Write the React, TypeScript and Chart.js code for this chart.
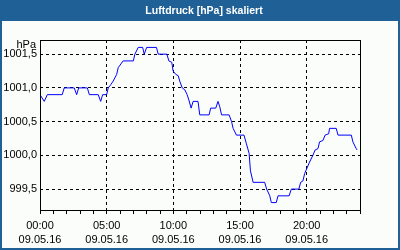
import React, { useEffect, useRef } from 'react';
import { Chart, registerables } from 'chart.js';

Chart.register(...registerables);

const TITLE = 'Luftdruck [hPa] skaliert';
const UNIT = 'hPa';
const DATE_LABEL = '09.05.16';

// time in minutes after 00:00 on 09.05.16
const minutes = [
  0, 19, 33, 100, 109, 154, 165, 174, 213, 222, 262, 273, 282, 300, 307, 319, 329, 345, 352, 374,
  420, 427, 442, 462, 469, 480, 524, 532, 571, 580, 593, 599, 611, 622, 629, 640, 652, 662, 670, 680,
  689, 711, 719, 761, 768, 791, 801, 809, 817, 851, 862, 869, 884, 918, 929, 941, 947, 959, 1011, 1020,
  1034, 1041, 1063, 1071, 1121, 1131, 1165, 1173, 1183, 1191, 1200, 1213, 1228, 1238, 1251, 1258, 1273, 1283, 1299, 1303,
  1333, 1341, 1401, 1408, 1423, 1427,
];
// pressure in hPa
const pressure = [
  1000.9, 1000.8, 1000.9, 1000.9, 1001.0, 1001.0, 1000.9, 1001.0, 1001.0, 1000.9, 1000.9, 1000.8, 1000.9, 1000.9, 1001.0, 1001.05, 1001.1, 1001.2, 1001.3, 1001.4,
  1001.4, 1001.5, 1001.6, 1001.6, 1001.5, 1001.6, 1001.6, 1001.5, 1001.5, 1001.4, 1001.38, 1001.25, 1001.2, 1001.18, 1001.1, 1001.0, 1000.97, 1000.9, 1000.82, 1000.7,
  1000.8, 1000.8, 1000.6, 1000.6, 1000.7, 1000.7, 1000.8, 1000.72, 1000.6, 1000.6, 1000.5, 1000.4, 1000.3, 1000.3, 1000.17, 1000.03, 999.77, 999.6, 999.6, 999.5,
  999.4, 999.3, 999.3, 999.4, 999.4, 999.5, 999.5, 999.6, 999.62, 999.73, 999.8, 999.9, 1000.0, 1000.08, 1000.1, 1000.2, 1000.22, 1000.3, 1000.32, 1000.4,
  1000.4, 1000.3, 1000.3, 1000.2, 1000.1, 1000.08,
];

const yTicks = [999.5, 1000.0, 1000.5, 1001.0, 1001.5];
const xLabelTicks = [0, 300, 600, 900, 1200];
const X_MIN = 0;
const X_MAX = 1440;
const X_STEP = 60;
const Y_MIN = 999.19;
const Y_MAX = 1001.71;

const BAR_COLOR = '#1f6197';
const BG_COLOR = '#fbfdfb';
const LINE_COLOR = '#0000ff';
const FONT = '"Liberation Sans", Arial, sans-serif';

const hhmm = (m: number) => {
  const h = Math.floor(m / 60);
  const mm = m % 60;
  return String(h).padStart(2, '0') + ':' + String(mm).padStart(2, '0');
};

const framePlugin = {
  id: 'frame',
  beforeDraw(chart: any) {
    const { ctx, width, height } = chart;
    ctx.save();
    ctx.fillStyle = BG_COLOR;
    ctx.fillRect(0, 0, width, height);
    ctx.fillStyle = BAR_COLOR;
    ctx.fillRect(0, 0, width, 21);
    ctx.fillRect(0, 0, 2, height);
    ctx.fillRect(width - 2, 0, 2, height);
    ctx.fillRect(0, height - 2, width, 2);
    ctx.fillStyle = '#ffffff';
    ctx.font = 'bold 10.5px ' + FONT;
    ctx.textAlign = 'center';
    ctx.textBaseline = 'middle';
    ctx.fillText(TITLE, width / 2 + 4, 11);
    ctx.restore();
  },
  afterDatasetsDraw(chart: any) {
    const { ctx, chartArea } = chart;
    const { left, top, right, bottom } = chartArea;
    ctx.save();
    ctx.strokeStyle = '#000000';
    ctx.lineWidth = 1;
    ctx.setLineDash([]);
    ctx.strokeRect(Math.round(left) + 0.5, Math.round(top) + 0.5, Math.round(right - left), Math.round(bottom - top));
    ctx.fillStyle = '#000000';
    ctx.font = '11px ' + FONT;
    ctx.textAlign = 'right';
    ctx.textBaseline = 'middle';
    ctx.fillText(UNIT, left - 4, top + 5);
    ctx.restore();
  },
};

export default function App() {
  const canvasRef = useRef<HTMLCanvasElement | null>(null);

  useEffect(() => {
    document.body.style.margin = '0';
    const canvas = canvasRef.current;
    if (!canvas) return;
    const points = minutes.map((m, i) => ({ x: m, y: pressure[i] }));
    const chart = new Chart(canvas, {
      type: 'line',
      data: {
        datasets: [
          {
            data: points,
            borderColor: LINE_COLOR,
            borderWidth: 1,
            pointRadius: 0,
            tension: 0,
            fill: false,
          },
        ],
      },
      options: {
        animation: false,
        responsive: false,
        maintainAspectRatio: false,
        layout: { padding: { top: 40, right: 40, left: 0, bottom: 0 } },
        plugins: {
          legend: { display: false },
          title: { display: false },
          tooltip: { enabled: false },
        },
        scales: {
          x: {
            type: 'linear',
            min: X_MIN,
            max: X_MAX,
            afterBuildTicks: (scale: any) => {
              const t = [];
              for (let v = X_MIN; v <= X_MAX; v += X_STEP) t.push({ value: v });
              scale.ticks = t;
            },
            afterFit: (scale: any) => {
              scale.height = 40;
            },
            border: { display: false, dash: [3, 3] },
            grid: {
              drawTicks: true,
              tickLength: 4,
              color: (ctx: any) => {
                const v = ctx.tick ? ctx.tick.value : -1;
                return xLabelTicks.includes(v) && v !== X_MIN ? '#000000' : 'rgba(0,0,0,0)';
              },
              tickColor: '#000000',
              tickBorderDash: [],
              lineWidth: 1,
            },
            ticks: {
              autoSkip: false,
              maxRotation: 0,
              minRotation: 0,
              padding: 4,
              color: '#000000',
              font: { family: FONT, size: 11, lineHeight: 1.36 },
              callback: (value: any) => {
                const v = Number(value);
                return xLabelTicks.includes(v) ? [hhmm(v), DATE_LABEL] : '';
              },
            },
          },
          y: {
            type: 'linear',
            min: Y_MIN,
            max: Y_MAX,
            afterBuildTicks: (scale: any) => {
              scale.ticks = yTicks.map((v) => ({ value: v }));
            },
            afterFit: (scale: any) => {
              scale.width = 40;
            },
            border: { display: false, dash: [3, 3] },
            grid: {
              drawTicks: false,
              color: '#000000',
              lineWidth: 1,
            },
            ticks: {
              padding: 3,
              color: '#000000',
              font: { family: FONT, size: 11 },
              callback: (value: any) => Number(value).toFixed(1).replace('.', ','),
            },
          },
        },
      },
      plugins: [framePlugin],
    });
    return () => chart.destroy();
  }, []);

  return (
    <div style={{ width: 400, height: 250 }}>
      <canvas ref={canvasRef} width={400} height={250} style={{ display: 'block' }} />
    </div>
  );
}
